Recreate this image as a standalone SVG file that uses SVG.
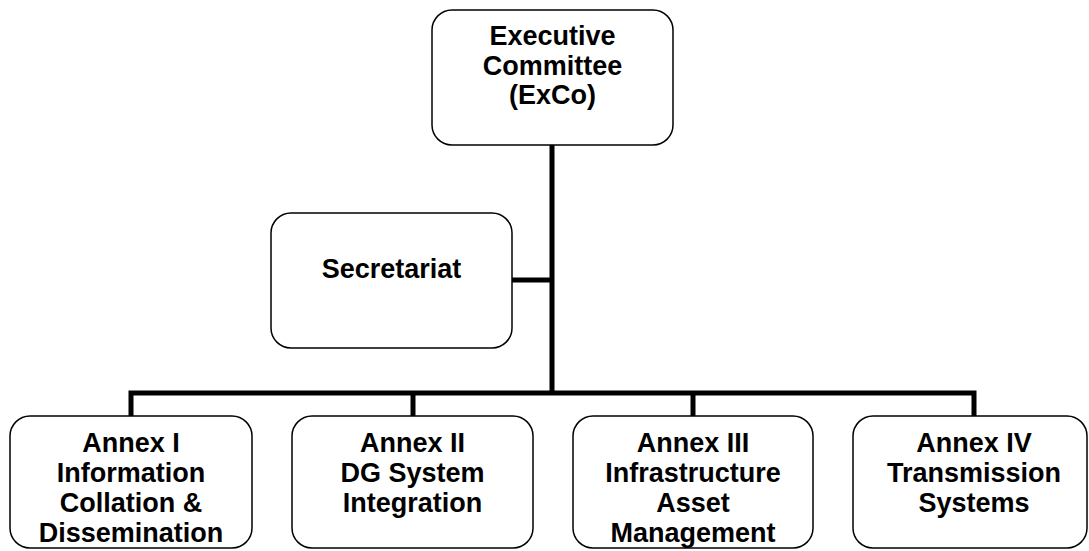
<svg xmlns="http://www.w3.org/2000/svg" width="1089" height="551" viewBox="0 0 1089 551">
  <style>
    .box { fill: #ffffff; stroke: #000000; stroke-width: 1.5; }
    .conn { fill: none; stroke: #000000; stroke-width: 5; stroke-linecap: butt; stroke-linejoin: miter; }
    .lbl { font-family: "Liberation Sans", Arial, sans-serif; font-weight: bold; font-size: 27px; fill: #000000; text-anchor: middle; }
  </style>
  <rect x="0" y="0" width="1089" height="551" fill="#ffffff"/>
  <g id="connectors">
    <line class="conn" x1="552" y1="145" x2="552" y2="393"/>
    <line class="conn" x1="512" y1="280" x2="552" y2="280"/>
    <polyline class="conn" points="131,417 131,393 974,393 974,417"/>
    <line class="conn" x1="413" y1="393" x2="413" y2="417"/>
    <line class="conn" x1="693" y1="393" x2="693" y2="417"/>
  </g>
  <g id="exco">
    <rect class="box" x="432" y="10" width="241" height="135" rx="20" ry="20"/>
    <text class="lbl" x="552.5" y="45">Executive</text>
    <text class="lbl" x="552.5" y="75">Committee</text>
    <text class="lbl" x="552.5" y="104">(ExCo)</text>
  </g>
  <g id="secretariat">
    <rect class="box" x="271" y="213" width="241" height="135" rx="20" ry="20"/>
    <text class="lbl" x="391.5" y="278">Secretariat</text>
  </g>
  <g id="annex1">
    <rect class="box" x="10" y="416" width="242" height="132" rx="20" ry="20"/>
    <text class="lbl" x="131" y="452">Annex I</text>
    <text class="lbl" x="131" y="482">Information</text>
    <text class="lbl" x="131" y="512">Collation &amp;</text>
    <text class="lbl" x="131" y="542">Dissemination</text>
  </g>
  <g id="annex2">
    <rect class="box" x="292" y="416" width="241" height="132" rx="20" ry="20"/>
    <text class="lbl" x="412.5" y="452">Annex II</text>
    <text class="lbl" x="412.5" y="482">DG System</text>
    <text class="lbl" x="412.5" y="512">Integration</text>
  </g>
  <g id="annex3">
    <rect class="box" x="573" y="416" width="240" height="132" rx="20" ry="20"/>
    <text class="lbl" x="693" y="452">Annex III</text>
    <text class="lbl" x="693" y="482">Infrastructure</text>
    <text class="lbl" x="693" y="512">Asset</text>
    <text class="lbl" x="693" y="542">Management</text>
  </g>
  <g id="annex4">
    <rect class="box" x="853" y="416" width="234" height="132" rx="20" ry="20"/>
    <text class="lbl" x="974" y="452">Annex IV</text>
    <text class="lbl" x="974" y="482">Transmission</text>
    <text class="lbl" x="974" y="512">Systems</text>
  </g>
</svg>
